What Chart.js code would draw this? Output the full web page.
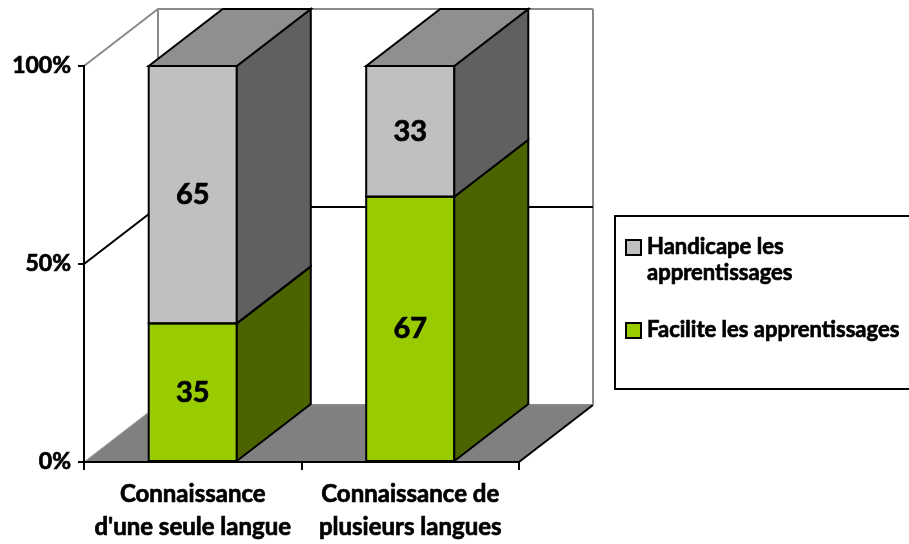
<!DOCTYPE html>
<html lang="fr">
<head>
<meta charset="utf-8">
<title>Connaissance des langues et apprentissages</title>
<script src="https://cdn.jsdelivr.net/npm/chart.js@4.4.1/dist/chart.umd.min.js"></script>
<style>
    body { margin: 0; background: #fff; }
    canvas { display: block; }
</style>
</head>
<body>
<canvas id="graficoLangues" width="909" height="544"></canvas>
<script>
// Données du graphique
const categories = [['Connaissance', "d'une seule langue"], ['Connaissance de', 'plusieurs langues']];
const facilite = [35, 67];
const handicape = [65, 33];
const ticksY = [0, 50, 100];
const nomsSeries = ['Facilite les apprentissages', 'Handicape les apprentissages'];
const legendeLignes = [['Facilite les apprentissages'], ['Handicape les', 'apprentissages']];

// Profondeur de l'effet 3D (en pixels)
const PROF_X = 74;
const PROF_Y = -57;
const POLICE = 'Lato, "Open Sans", sans-serif';
const EPAIS_TEXTE = 0.7;

// Fonction pour tracer un polygone rempli et bordé
function polygone(ctx, pts, fond, trait, epaisseur) {
    ctx.beginPath();
    ctx.moveTo(pts[0][0], pts[0][1]);
    pts.slice(1).forEach(p => ctx.lineTo(p[0], p[1]));
    ctx.closePath();
    if (fond) {
        ctx.fillStyle = fond;
        ctx.fill();
    }
    if (trait) {
        ctx.strokeStyle = trait;
        ctx.lineWidth = epaisseur || 2;
        ctx.stroke();
    }
}

function ligne(ctx, x1, y1, x2, y2, couleur, epaisseur) {
    ctx.beginPath();
    ctx.moveTo(x1, y1);
    ctx.lineTo(x2, y2);
    ctx.strokeStyle = couleur;
    ctx.lineWidth = epaisseur;
    ctx.stroke();
}

// Texte en gras un peu renforcé
function texteGras(ctx, texte, x, y) {
    ctx.fillText(texte, x, y);
    ctx.lineWidth = EPAIS_TEXTE;
    ctx.strokeStyle = ctx.fillStyle;
    ctx.strokeText(texte, x, y);
}

// Murs, sol, faces latérales, étiquettes et légende
const effet3d = {
    id: 'effet3d',
    beforeDraw(chart) {
        const { ctx, chartArea: a, scales: { y } } = chart;
        ctx.save();
        // sol
        polygone(ctx, [
            [a.left, a.bottom], [a.right, a.bottom],
            [a.right + PROF_X, a.bottom + PROF_Y], [a.left + PROF_X, a.bottom + PROF_Y]
        ], '#808080');
        ligne(ctx, a.left, a.bottom, a.left + PROF_X, a.bottom + PROF_Y, '#a0a0a0', 1);
        ligne(ctx, a.left + PROF_X, a.bottom + PROF_Y, a.right + PROF_X, a.bottom + PROF_Y, '#8a8a8a', 2);
        ligne(ctx, a.right, a.bottom, a.right + PROF_X, a.bottom + PROF_Y, '#000', 2);
        // mur du fond et mur de gauche
        ligne(ctx, a.left + PROF_X, a.top + PROF_Y, a.left + PROF_X, a.bottom + PROF_Y, '#8a8a8a', 2);
        ligne(ctx, a.right + PROF_X, a.top + PROF_Y, a.right + PROF_X, a.bottom + PROF_Y, '#8a8a8a', 2);
        ticksY.forEach(v => {
            if (v === ticksY[0]) return;
            const py = y.getPixelForValue(v);
            const couleur = v === ticksY[ticksY.length - 1] ? '#8a8a8a' : '#000';
            ctx.beginPath();
            ctx.moveTo(a.left, py);
            ctx.lineTo(a.left + PROF_X, py + PROF_Y);
            ctx.lineTo(a.right + PROF_X, py + PROF_Y);
            ctx.strokeStyle = couleur;
            ctx.lineWidth = 2;
            ctx.stroke();
        });
        ctx.restore();
    },
    afterDatasetsDraw(chart) {
        const { ctx } = chart;
        const dernier = chart.data.datasets.length - 1;
        ctx.save();
        ctx.lineJoin = 'miter';
        chart.data.datasets.forEach((ds, i) => {
            chart.getDatasetMeta(i).data.forEach(barre => {
                const { x, y, base, width } = barre.getProps(['x', 'y', 'base', 'width'], true);
                const g = x - width / 2, d = x + width / 2;
                const haut = Math.min(y, base), bas = Math.max(y, base);
                // contour de la face avant
                ctx.strokeStyle = '#000';
                ctx.lineWidth = 2;
                ctx.strokeRect(g, haut, width, bas - haut);
                // face de droite
                polygone(ctx, [
                    [d, haut], [d + PROF_X, haut + PROF_Y],
                    [d + PROF_X, bas + PROF_Y], [d, bas]
                ], ds.couleurCote, '#000', 2);
                // face du dessus pour le dernier segment
                if (i === dernier) {
                    polygone(ctx, [
                        [g, haut], [g + PROF_X, haut + PROF_Y],
                        [d + PROF_X, haut + PROF_Y], [d, haut]
                    ], ds.couleurDessus, '#000', 2);
                }
            });
        });
        // valeurs au centre des segments
        ctx.fillStyle = '#000';
        ctx.font = 'bold 29px ' + POLICE;
        ctx.textAlign = 'center';
        ctx.textBaseline = 'middle';
        chart.data.datasets.forEach((ds, i) => {
            chart.getDatasetMeta(i).data.forEach((barre, j) => {
                const { x, y, base } = barre.getProps(['x', 'y', 'base'], true);
                texteGras(ctx, String(ds.data[j]), x, (y + base) / 2);
            });
        });
        ctx.restore();
    },
    afterDraw(chart) {
        const { ctx } = chart;
        ctx.save();
        // cadre de la légende
        ctx.strokeStyle = '#000';
        ctx.lineWidth = 2;
        ctx.strokeRect(615, 216, 300, 173);
        ctx.font = 'bold 22px ' + POLICE;
        ctx.textBaseline = 'middle';
        ctx.textAlign = 'left';
        let yy = 247;
        for (let i = chart.data.datasets.length - 1; i >= 0; i--) {
            const ds = chart.data.datasets[i];
            ctx.fillStyle = ds.backgroundColor;
            ctx.fillRect(626, yy - 7, 15, 15);
            ctx.strokeStyle = '#000';
            ctx.lineWidth = 2;
            ctx.strokeRect(626, yy - 7, 15, 15);
            ctx.fillStyle = '#000';
            legendeLignes[i].forEach((texte, k) => {
                texteGras(ctx, texte, 647, yy + k * 26);
            });
            yy += legendeLignes[i].length * 26 + 31;
        }
        ctx.restore();
    }
};

const ctxGrafico = document.getElementById('graficoLangues').getContext('2d');
const grafico = new Chart(ctxGrafico, {
    type: 'bar',
    data: {
        labels: categories,
        datasets: [{
            label: nomsSeries[0],
            data: facilite,
            backgroundColor: '#99CC00',
            couleurCote: '#4B6400',
            couleurDessus: '#6f8f00',
            borderWidth: 0
        }, {
            label: nomsSeries[1],
            data: handicape,
            backgroundColor: '#C0C0C0',
            couleurCote: '#606060',
            couleurDessus: '#8F8F8F',
            borderWidth: 0
        }]
    },
    options: {
        responsive: false,
        animation: false,
        barPercentage: 0.405,
        categoryPercentage: 1,
        layout: {
            padding: { top: 66, right: 390, left: 0, bottom: 0 }
        },
        plugins: {
            legend: { display: false },
            tooltip: { enabled: false }
        },
        scales: {
            x: {
                stacked: true,
                afterFit: scale => { scale.height = 82; },
                border: { display: true, color: '#000', width: 2 },
                grid: { drawOnChartArea: false, drawTicks: true, tickLength: 8, color: '#000', lineWidth: 2 },
                ticks: {
                    color: '#000',
                    padding: 8,
                    maxRotation: 0,
                    textStrokeColor: '#000',
                    textStrokeWidth: EPAIS_TEXTE,
                    font: { family: POLICE, size: 24, weight: 'bold', lineHeight: 1.375 }
                }
            },
            y: {
                stacked: true,
                min: 0,
                max: 100,
                afterFit: scale => { scale.width = 84; },
                afterBuildTicks: scale => { scale.ticks = ticksY.map(v => ({ value: v })); },
                border: { display: true, color: '#000', width: 2 },
                grid: { drawOnChartArea: false, drawTicks: true, tickLength: 6, color: '#000', lineWidth: 2 },
                ticks: {
                    color: '#000',
                    padding: 7,
                    textStrokeColor: '#000',
                    textStrokeWidth: EPAIS_TEXTE,
                    callback: v => v + '%',
                    font: { family: POLICE, size: 23, weight: 'bold' }
                }
            }
        }
    },
    plugins: [effet3d]
});
</script>
</body>
</html>
